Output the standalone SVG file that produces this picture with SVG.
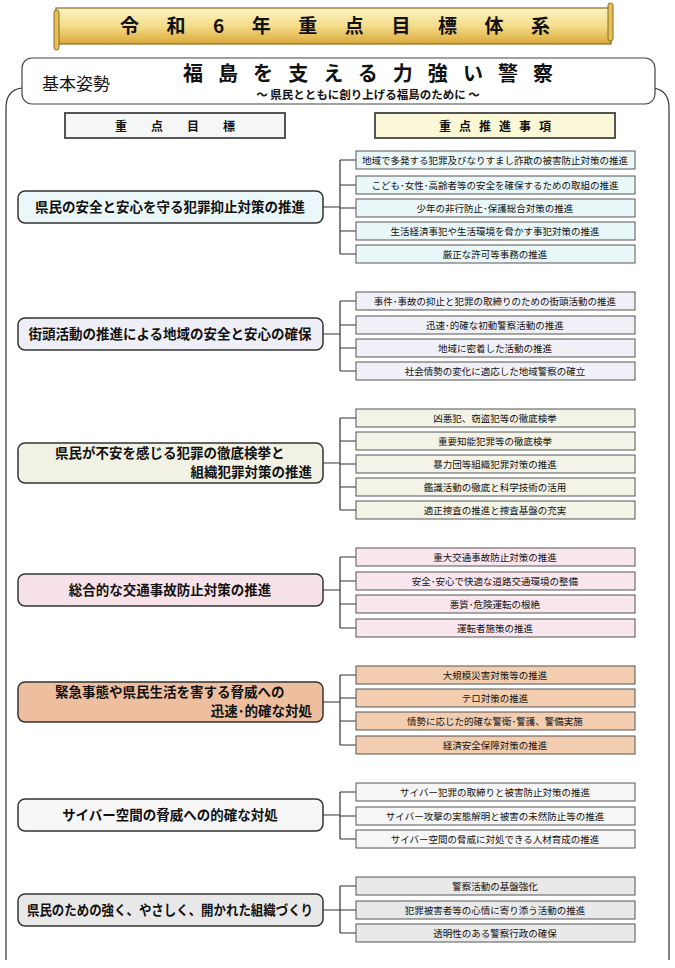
<svg xmlns="http://www.w3.org/2000/svg" width="675" height="968" viewBox="0 0 675 968">
<defs>
<linearGradient id="scroll" x1="0" y1="0" x2="0" y2="1"><stop offset="0" stop-color="#fbf3c4"/><stop offset="0.5" stop-color="#f4dc8a"/><stop offset="1" stop-color="#d9a83a"/></linearGradient>
</defs>
<style>
text{font-family:"Noto Sans CJK JP","Noto Sans CJK SC",sans-serif;fill:#111}
.goal{stroke:#333;stroke-width:1.5}
.item{stroke:#555;stroke-width:1}
.gt{font-size:13.5px;font-weight:bold}
.it{font-size:9.5px;text-anchor:middle}
.ln{stroke:#333;stroke-width:1.2;fill:none}
</style>
<rect width="675" height="968" fill="#fff"/>
<g id="title">
<rect x="56" y="8" width="555" height="36" fill="url(#scroll)" stroke="#8a6a20" stroke-width="1.2"/>
<rect x="54" y="10" width="5" height="40" rx="2.5" fill="#e8c05a" stroke="#8a6a20"/>
<rect x="608" y="3" width="5" height="38" rx="2.5" fill="#e8c05a" stroke="#8a6a20"/>
<text x="335" y="33" font-size="19" font-weight="bold" text-anchor="middle" textLength="430" lengthAdjust="spacing">令 和 6 年 重 点 目 標 体 系</text>
</g>
<g id="frame">
<path d="M6,960 V108 Q6,90 22,88 M653,88 Q669,90 669,108 V960" class="ln" stroke-width="1.5"/>
</g>
<g id="stance">
<rect x="22" y="58" width="633" height="46" rx="10" fill="#fff" stroke="#444" stroke-width="1.2"/>
<text x="42" y="90" font-size="17">基本姿勢</text>
<text x="368" y="81" font-size="20" font-weight="bold" text-anchor="middle" textLength="370" lengthAdjust="spacing">福島を支える力強い警察</text>
<text x="368" y="99" font-size="11.5" font-weight="bold" text-anchor="middle">～ 県民とともに創り上げる福島のために ～</text>
</g>
<g id="hdr-left"><rect x="65" y="113" width="220" height="25" fill="#f5f7f7" stroke="#555" stroke-width="2"/><text x="175" y="131" font-size="12" font-weight="bold" text-anchor="middle" textLength="120" lengthAdjust="spacing">重点目標</text></g>
<g id="hdr-right"><rect x="375" y="113" width="240" height="25" fill="#fbf8d8" stroke="#555" stroke-width="2"/><text x="495" y="131" font-size="12" font-weight="bold" text-anchor="middle" textLength="112" lengthAdjust="spacing">重点推進事項</text></g>

<g id="connectors">
<path class="ln" d="M323,207H340 M340,160V254 M340,160H356 M340,185H356 M340,208H356 M340,231H356 M340,254H356"/>
<path class="ln" d="M323,334H340 M340,301V371 M340,301H356 M340,325H356 M340,348H356 M340,371H356"/>
<path class="ln" d="M323,463H340 M340,418V510 M340,418H356 M340,441H356 M340,464H356 M340,487H356 M340,510H356"/>
<path class="ln" d="M323,590H340 M340,557V628 M340,557H356 M340,581H356 M340,604H356 M340,628H356"/>
<path class="ln" d="M323,702H340 M340,675V745 M340,675H356 M340,698H356 M340,721H356 M340,745H356"/>
<path class="ln" d="M323,815H340 M340,792V839 M340,792H356 M340,816H356 M340,839H356"/>
<path class="ln" d="M323,910H340 M340,886V933 M340,886H356 M340,910H356 M340,933H356"/>
</g>

<g id="goal1"><rect class="goal" x="18" y="191" width="305" height="32" rx="7" fill="#ebf7f8"/><text class="gt" x="170" y="212" text-anchor="middle">県民の安全と安心を守る犯罪抑止対策の推進</text></g>
<g id="items1" fill="#eaf7f9">
<rect class="item" x="356" y="151" width="279" height="18"/><text class="it" x="495" y="164">地域で多発する犯罪及びなりすまし詐欺の被害防止対策の推進</text>
<rect class="item" x="356" y="176" width="279" height="18"/><text class="it" x="495" y="189">こども･女性･高齢者等の安全を確保するための取組の推進</text>
<rect class="item" x="356" y="199" width="279" height="18"/><text class="it" x="495" y="212">少年の非行防止･保護総合対策の推進</text>
<rect class="item" x="356" y="222" width="279" height="18"/><text class="it" x="495" y="235">生活経済事犯や生活環境を脅かす事犯対策の推進</text>
<rect class="item" x="356" y="245" width="279" height="18"/><text class="it" x="495" y="258">厳正な許可等事務の推進</text>
</g>

<g id="goal2"><rect class="goal" x="18" y="318" width="305" height="32" rx="7" fill="#eeeff6"/><text class="gt" x="170" y="339" text-anchor="middle">街頭活動の推進による地域の安全と安心の確保</text></g>
<g id="items2" fill="#f0f0f7">
<rect class="item" x="356" y="292" width="279" height="18"/><text class="it" x="495" y="305">事件･事故の抑止と犯罪の取締りのための街頭活動の推進</text>
<rect class="item" x="356" y="316" width="279" height="18"/><text class="it" x="495" y="329">迅速･的確な初動警察活動の推進</text>
<rect class="item" x="356" y="339" width="279" height="18"/><text class="it" x="495" y="352">地域に密着した活動の推進</text>
<rect class="item" x="356" y="362" width="279" height="18"/><text class="it" x="495" y="375">社会情勢の変化に適応した地域警察の確立</text>
</g>

<g id="goal3"><rect class="goal" x="18" y="443" width="305" height="40" rx="7" fill="#f1f1e4"/><text class="gt" x="55" y="458">県民が不安を感じる犯罪の徹底検挙と</text><text class="gt" x="312" y="477" text-anchor="end">組織犯罪対策の推進</text></g>
<g id="items3" fill="#f3f3e8">
<rect class="item" x="356" y="409" width="279" height="18"/><text class="it" x="495" y="422">凶悪犯、窃盗犯等の徹底検挙</text>
<rect class="item" x="356" y="432" width="279" height="18"/><text class="it" x="495" y="445">重要知能犯罪等の徹底検挙</text>
<rect class="item" x="356" y="455" width="279" height="18"/><text class="it" x="495" y="468">暴力団等組織犯罪対策の推進</text>
<rect class="item" x="356" y="478" width="279" height="18"/><text class="it" x="495" y="491">鑑識活動の徹底と科学技術の活用</text>
<rect class="item" x="356" y="501" width="279" height="18"/><text class="it" x="495" y="514">適正捜査の推進と捜査基盤の充実</text>
</g>

<g id="goal4"><rect class="goal" x="18" y="574" width="305" height="32" rx="7" fill="#f8e2ea"/><text class="gt" x="170" y="595" text-anchor="middle">総合的な交通事故防止対策の推進</text></g>
<g id="items4" fill="#f9e6ee">
<rect class="item" x="356" y="548" width="279" height="18"/><text class="it" x="495" y="561">重大交通事故防止対策の推進</text>
<rect class="item" x="356" y="572" width="279" height="18"/><text class="it" x="495" y="585">安全･安心で快適な道路交通環境の整備</text>
<rect class="item" x="356" y="595" width="279" height="18"/><text class="it" x="495" y="608">悪質･危険運転の根絶</text>
<rect class="item" x="356" y="619" width="279" height="18"/><text class="it" x="495" y="632">運転者施策の推進</text>
</g>

<g id="goal5"><rect class="goal" x="18" y="682" width="305" height="40" rx="7" fill="#eebf9e"/><text class="gt" x="55" y="697">緊急事態や県民生活を害する脅威への</text><text class="gt" x="312" y="716" text-anchor="end">迅速･的確な対処</text></g>
<g id="items5" fill="#f2cdb0">
<rect class="item" x="356" y="666" width="279" height="18"/><text class="it" x="495" y="679">大規模災害対策等の推進</text>
<rect class="item" x="356" y="689" width="279" height="18"/><text class="it" x="495" y="702">テロ対策の推進</text>
<rect class="item" x="356" y="712" width="279" height="18"/><text class="it" x="495" y="725">情勢に応じた的確な警衛･警護、警備実施</text>
<rect class="item" x="356" y="736" width="279" height="18"/><text class="it" x="495" y="749">経済安全保障対策の推進</text>
</g>

<g id="goal6"><rect class="goal" x="18" y="799" width="305" height="32" rx="7" fill="#f6f6f6"/><text class="gt" x="170" y="820" text-anchor="middle">サイバー空間の脅威への的確な対処</text></g>
<g id="items6" fill="#f6f6f6">
<rect class="item" x="356" y="783" width="279" height="18"/><text class="it" x="495" y="796">サイバー犯罪の取締りと被害防止対策の推進</text>
<rect class="item" x="356" y="807" width="279" height="18"/><text class="it" x="495" y="820">サイバー攻撃の実態解明と被害の未然防止等の推進</text>
<rect class="item" x="356" y="830" width="279" height="18"/><text class="it" x="495" y="843">サイバー空間の脅威に対処できる人材育成の推進</text>
</g>

<g id="goal7"><rect class="goal" x="18" y="894" width="305" height="32" rx="7" fill="#e8e8e8"/><text class="gt" x="170" y="915" text-anchor="middle" textLength="286" lengthAdjust="spacingAndGlyphs">県民のための強く、やさしく、開かれた組織づくり</text></g>
<g id="items7" fill="#e9e9e9">
<rect class="item" x="356" y="877" width="279" height="18"/><text class="it" x="495" y="890">警察活動の基盤強化</text>
<rect class="item" x="356" y="901" width="279" height="18"/><text class="it" x="495" y="914">犯罪被害者等の心情に寄り添う活動の推進</text>
<rect class="item" x="356" y="924" width="279" height="18"/><text class="it" x="495" y="937">透明性のある警察行政の確保</text>
</g>
</svg>
